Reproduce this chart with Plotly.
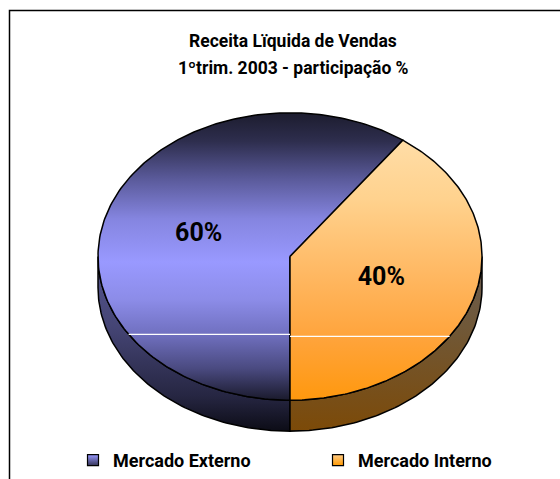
import numpy as np
import plotly.graph_objects as go

categories = ["Mercado Externo", "Mercado Interno"]
values = [60, 40]
labels = ["60%", "40%"]
title_lines = ["Receita Lïquida de Vendas", "1ºtrim. 2003 - participação %"]

# geometry (pixel space)
W, H = 560, 479
cx, cy, rx, ry, depth = 290.0, 257.0, 192.0, 144.0, 31.0
start_deg = 180.0  # first slice starts at 6 o'clock, runs clockwise

FONT = "Roboto, Liberation Sans, Arial, sans-serif"

top_scales = [
    [[0, "#1c1c2e"], [0.1, "#2e2e4e"], [0.23, "#5a5a9a"], [0.37, "#8585e0"], [0.52, "#9999ff"],
     [0.65, "#8c8ce8"], [0.77, "#7070c0"], [0.89, "#4a4a80"], [1, "#1a1a2c"]],
    [[0, "#ffe2b2"], [0.3, "#ffd28e"], [0.55, "#ffb964"], [0.78, "#ffa43c"], [1, "#ff980e"]],
]
side_scales = [
    [[0, "#55558f"], [0.4, "#454575"], [0.8, "#262642"], [1, "#0c0c16"]],
    [[0, "#6a5c52"], [0.4, "#705838"], [1, "#7c4a08"]],
]
legend_colors = [("#9999ff", "#333355"), ("#ffcc88", "#ff9900")]


def pt(theta_deg, dy=0.0):
    t = np.radians(theta_deg)
    return cx + rx * np.sin(t), cy - ry * np.cos(t) + dy


fig = go.Figure()

total = sum(values)
angles = []
a = start_deg
for v in values:
    span = 360.0 * v / total
    angles.append((a, a + span))
    a += span

# sides (visible front half: 90..270 deg)
for i, (a0, a1) in enumerate(angles):
    segs = []
    for off in (-360, 0, 360):
        s0, s1 = max(a0 + off, 90), min(a1 + off, 270)
        if s1 > s0:
            segs.append((s0, s1))
    for s0, s1 in segs:
        th = np.linspace(s0, s1, 80)
        xt, yt = pt(th)
        xb, yb = pt(th[::-1], depth)
        xs = np.concatenate([xt, xb, [xt[0]]])
        ys = np.concatenate([yt, yb, [yt[0]]])
        fig.add_trace(go.Scatter(
            x=xs, y=ys, mode="lines", fill="toself",
            line=dict(color="black", width=1.5),
            fillgradient=dict(type="vertical", colorscale=side_scales[i], start=cy, stop=cy + ry + depth),
            hoverinfo="skip", showlegend=False))

# top faces
for i, (a0, a1) in enumerate(angles):
    th = np.linspace(a0, a1, 200)
    xa, ya = pt(th)
    xs = np.concatenate([[cx], xa, [cx]])
    ys = np.concatenate([[cy], ya, [cy]])
    fig.add_trace(go.Scatter(
        x=xs, y=ys, mode="lines", fill="toself",
        line=dict(color="black", width=1.5),
        fillgradient=dict(type="vertical", colorscale=top_scales[i], start=cy - ry, stop=cy + ry),
        hoverinfo="skip", showlegend=False))

# white gradient seams
for yy, side in ((335.0, -1), (337.0, 1)):
    xe = cx + side * rx * np.sqrt(1 - ((yy - cy) / ry) ** 2)
    fig.add_shape(type="line", x0=cx, x1=xe, y0=yy, y1=yy, line=dict(color="white", width=1.2))

# labels
lx, ly = [], []
for (a0, a1) in angles:
    x, y = pt((a0 + a1) / 2)
    lx.append(cx + 0.5 * (x - cx))
    ly.append(cy + 0.5 * (y - cy))
fig.add_trace(go.Scatter(
    x=lx, y=ly, mode="text", text=labels,
    textfont=dict(family=FONT, size=25, color="black", weight="bold"),
    hoverinfo="skip", showlegend=False))

# legend entries (each in its own legend box for exact placement)
legend_names = ["legend", "legend2"]
for name, (c, g), lg in zip(categories, legend_colors, legend_names):
    fig.add_trace(go.Scatter(
        x=[None], y=[None], mode="markers", name=name, legend=lg,
        marker=dict(symbol="square", size=11, color=c,
                    gradient=dict(type="vertical", color=g),
                    line=dict(color="black", width=1.2))))

leg_common = dict(orientation="h", xanchor="left", yanchor="middle", y=1 - 461 / H,
                  font=dict(family=FONT, size=18, color="black", weight="bold"),
                  bgcolor="rgba(0,0,0,0)", itemclick=False)

annotations = []
for txt, yy in zip(title_lines, (41, 68)):
    annotations.append(dict(text=txt, xref="paper", yref="paper", x=293 / W, y=1 - yy / H,
                            xanchor="center", yanchor="middle", showarrow=False,
                            font=dict(family=FONT, size=17.5, color="black", weight="bold")))

fig.update_layout(
    width=W, height=H,
    margin=dict(l=0, r=0, t=0, b=0),
    paper_bgcolor="white", plot_bgcolor="white",
    xaxis=dict(range=[0, W], visible=False, fixedrange=True),
    yaxis=dict(range=[H, 0], visible=False, fixedrange=True),
    showlegend=True,
    legend=dict(x=73 / W, **leg_common),
    legend2=dict(x=318 / W, **leg_common),
    annotations=annotations,
    shapes=list(fig.layout.shapes) + [dict(type="rect", xref="paper", yref="paper",
                x0=9.5 / W, x1=1.05, y0=1 - 10.5 / H, y1=-0.05,
                line=dict(color="black", width=1.5), layer="above")],
)

fig.write_html("out.html", config={"displayModeBar": False},
               post_script="document.body.style.margin='0';document.body.style.overflow='hidden';")
